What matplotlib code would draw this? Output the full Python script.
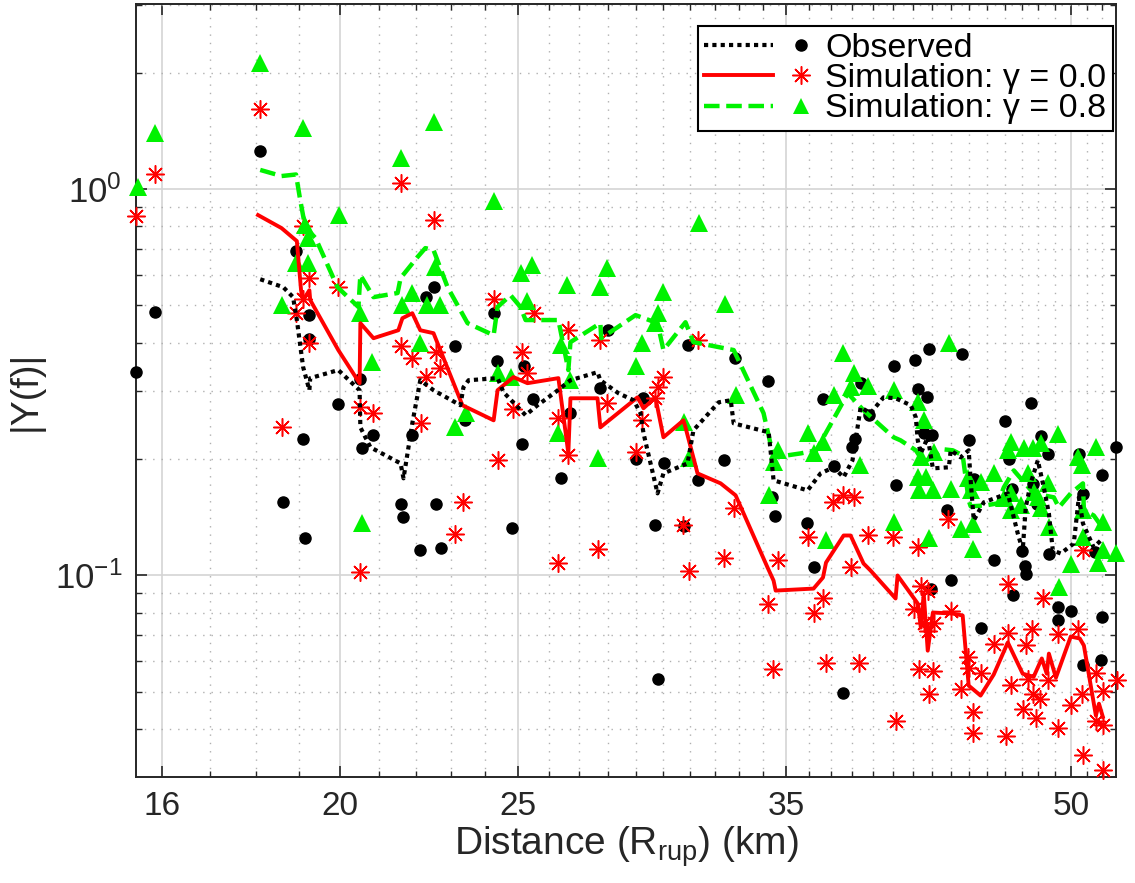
import matplotlib
matplotlib.use('Agg')
import matplotlib.pyplot as plt
from matplotlib.ticker import FixedLocator, FixedFormatter, NullFormatter
from matplotlib.legend_handler import HandlerBase
from matplotlib.lines import Line2D

plt.rcParams['font.family'] = ['Liberation Sans', 'DejaVu Sans']
plt.rcParams['mathtext.fontset'] = 'custom'
plt.rcParams['mathtext.rm'] = 'Liberation Sans'
plt.rcParams['mathtext.it'] = 'Liberation Sans:italic'
plt.rcParams['mathtext.bf'] = 'Liberation Sans:bold'

# ---------------- data ----------------
obs_x = [15.5, 15.87, 18.1, 18.62, 18.93, 19.24, 19.24, 19.1, 19.14, 19.96, 20.5, 20.84, 20.55,
         21.58, 21.64, 22.55, 22.1, 22.7, 21.89, 22.29, 22.49, 23.11, 24.36, 24.25, 25.13, 24.81,
         25.18, 23.4, 25.48, 26.37, 26.68, 27.72, 27.98, 29.25, 28.97, 30.01, 29.7, 30.77, 31.33,
         30.93, 32.36, 32.81, 34.2, 34.38, 34.52, 35.93, 36.23, 36.64, 37.15, 38.14, 38.0, 38.41,
         38.82, 40.05, 40.13, 41.13, 41.25, 41.73, 41.85, 43.6, 41.59, 42.02, 42.82, 43.0, 44.0,
         44.25, 45.38, 46.03, 46.28, 46.41, 47.53, 47.04, 47.2, 47.27, 48.14, 48.55, 48.64, 50.47,
         50.73, 52.0, 52.9, 51.53, 47.68, 47.94, 41.97, 46.5, 49.16, 49.16, 49.98, 52.0, 44.67,
         50.76, 51.9, 37.58, 29.8]
obs_y = [0.336, 0.48, 1.254, 0.155, 0.692, 0.472, 0.408, 0.225, 0.125, 0.277, 0.322, 0.231, 0.214,
         0.153, 0.1416, 0.153, 0.1166, 0.118, 0.2305, 0.526, 0.556, 0.392, 0.3584, 0.4766, 0.2195, 0.1326,
         0.348, 0.253, 0.2857, 0.1787, 0.2638, 0.306, 0.431, 0.288, 0.1998, 0.1954, 0.1353, 0.1346, 0.1762,
         0.394, 0.1986, 0.3664, 0.3186, 0.160, 0.1425, 0.137, 0.1055, 0.2857, 0.192, 0.226, 0.215, 0.314,
         0.26, 0.348, 0.1711, 0.3605, 0.303, 0.2897, 0.3843, 0.3738, 0.233, 0.2305, 0.148, 0.0975, 0.2246,
         0.178, 0.1094, 0.251, 0.1998, 0.1678, 0.2786, 0.1156, 0.1057, 0.1006, 0.229, 0.2058, 0.1138, 0.2067,
         0.1629, 0.1816, 0.215, 0.1149, 0.172, 0.1534, 0.0924, 0.0888, 0.0831, 0.0768, 0.0811, 0.078, 0.073,
         0.0588, 0.0605, 0.0497, 0.054]

sim0_x = [15.5, 15.87, 18.10, 18.61, 18.93, 19.10, 19.10, 19.25, 19.25, 19.96, 20.50, 20.52, 20.86,
          21.58, 21.58, 21.90, 22.15, 22.29, 22.51, 22.57, 22.68, 23.11, 23.35, 24.25, 24.37, 24.86,
          25.14, 25.27, 25.50, 26.30, 26.30, 26.63, 26.63, 27.65, 27.72, 27.96, 28.97, 29.22, 29.70,
          29.78, 30.00, 30.76, 30.96, 31.31, 32.35, 32.76, 34.18, 34.40, 34.62, 35.94, 36.21, 36.64,
          36.78, 37.09, 37.56, 37.93, 38.07, 38.31, 38.79, 39.98, 40.13, 41.26, 41.05, 41.31, 41.42,
          41.78, 41.57, 41.78, 41.84, 42.05, 42.10, 42.84, 43.0, 43.54, 43.93, 43.98, 44.20, 44.20,
          44.64, 45.38, 46.06, 46.23, 46.23, 46.35, 47.06, 47.24, 47.36, 47.59, 47.65, 47.83, 48.08,
          48.26, 48.56, 49.18, 49.18, 49.98, 50.43, 50.69, 50.75, 50.75, 51.58, 51.58, 52.03, 52.03,
          52.03, 52.95]
sim0_y = [0.851, 1.094, 1.612, 0.2417, 0.477, 0.802, 0.519, 0.588, 0.399, 0.557, 0.2723, 0.1018, 0.263,
          1.036, 0.392, 0.365, 0.2475, 0.326, 0.831, 0.378, 0.344, 0.1284, 0.1546, 0.519, 0.1986, 0.2692,
          0.378, 0.334, 0.477, 0.255, 0.108, 0.431, 0.2046, 0.1174, 0.406, 0.279, 0.2084, 0.252, 0.2874,
          0.307, 0.326, 0.1348, 0.103, 0.406, 0.1113, 0.1491, 0.0846, 0.0574, 0.1094, 0.1254, 0.0802, 0.0872,
          0.0595, 0.1546, 0.1612, 0.1049, 0.1593, 0.0595, 0.1269, 0.1254, 0.0421, 0.1182, 0.0821, 0.0574, 0.0942,
          0.0914, 0.0755, 0.0720, 0.0495, 0.0567, 0.0755, 0.1397, 0.0811, 0.0510, 0.0617, 0.0578, 0.0444, 0.0392,
          0.0561, 0.0666, 0.0385, 0.0953, 0.0712, 0.0522, 0.0452, 0.0659, 0.0541, 0.0725, 0.0495, 0.0429, 0.0480,
          0.0872, 0.0535, 0.0707, 0.0404, 0.0463, 0.0725, 0.0495, 0.1161, 0.0344, 0.0561, 0.0421, 0.0504, 0.0411,
          0.0313, 0.0535]

sim8_x = [15.52, 15.87, 18.10, 18.61, 18.93, 19.10, 19.15, 19.22, 19.22, 19.99, 20.50, 20.57, 20.83,
          21.58, 21.61, 21.90, 22.12, 22.32, 22.49, 22.54, 22.68, 23.11, 23.41, 24.25, 24.37, 24.77,
          25.11, 25.30, 25.46, 26.30, 26.40, 26.60, 26.70, 27.65, 27.72, 27.96, 28.97, 29.22, 29.70,
          29.78, 30.00, 30.80, 30.96, 31.35, 32.39, 32.84, 34.23, 34.44, 34.62, 35.94, 36.21, 36.64,
          36.78, 37.13, 37.56, 37.93, 38.07, 38.36, 38.79, 40.03, 40.03, 41.26, 41.42, 41.57, 41.68,
          41.26, 41.31, 41.84, 42.05, 42.10, 42.90, 43.0, 43.54, 43.93, 44.09, 44.20, 44.20, 44.64,
          45.38, 45.96, 46.23, 46.35, 46.35, 46.35, 46.94, 47.12, 47.36, 47.65, 47.71, 47.96, 48.14,
          48.14, 48.56, 48.63, 49.18, 49.24, 49.98, 50.43, 50.69, 50.75, 50.75, 51.58, 51.71, 52.03,
          52.03, 52.93]
sim8_y = [1.012, 1.397, 2.12, 0.5006, 0.643, 1.439, 0.807, 0.746, 0.643, 0.856, 0.477, 0.1364, 0.356,
          1.203, 0.5006, 0.538, 0.399, 0.5006, 1.491, 0.628, 0.5006, 0.2417, 0.263, 0.931, 0.334, 0.326,
          0.606, 0.513, 0.636, 0.2333, 0.3944, 0.564, 0.320, 0.201, 0.557, 0.624, 0.348, 0.399, 0.4496,
          0.477, 0.541, 0.249, 0.201, 0.816, 0.504, 0.2926, 0.1612, 0.1962, 0.2108, 0.2333, 0.207, 0.2212,
          0.1232, 0.2926, 0.376, 0.307, 0.334, 0.1928, 0.309, 0.3015, 0.1372, 0.2806, 0.2021, 0.252, 0.1795,
          0.1795, 0.166, 0.1247, 0.166, 0.2084, 0.399, 0.167, 0.1316, 0.1784, 0.166, 0.1356, 0.1174, 0.1741,
          0.1837, 0.1583, 0.2108, 0.2212, 0.1631, 0.1474, 0.1518, 0.2133, 0.1837, 0.2133, 0.1641, 0.1593, 0.2198,
          0.1491, 0.1731, 0.1332, 0.2318, 0.0931, 0.1074, 0.2021, 0.1928, 0.1474, 0.1254, 0.2146, 0.108, 0.1372,
          0.1161, 0.114]

obs_line_x = [18.10, 18.63, 18.86, 18.95, 19.10, 19.25, 19.27, 19.96, 20.50, 20.52, 20.78, 21.58, 21.66,
              21.90, 22.12, 22.49, 23.26, 23.35, 23.50, 24.37, 24.55, 25.24, 25.62, 26.20, 26.70, 27.62,
              27.72, 28.36, 28.90, 29.15, 29.26, 29.78, 30.0, 30.92, 31.15, 32.15, 32.64, 32.76, 34.23,
              34.44, 35.94, 36.53, 37.13, 37.60, 38.02, 38.41, 38.89, 39.53, 40.13, 40.9, 41.16, 41.26,
              41.42, 41.78, 42.05, 42.9, 43.0, 43.54, 43.98, 44.09, 44.26, 44.82, 46.19, 46.77, 47.06,
              47.24, 47.53, 47.96, 48.32, 48.63, 48.87, 49.36, 50.17, 50.49, 50.75, 51.44, 52.03]
obs_line_y = [0.584, 0.557, 0.525, 0.458, 0.346, 0.3015, 0.324, 0.340, 0.3015, 0.2417, 0.2146, 0.195, 0.1784,
              0.2475, 0.320, 0.3015, 0.2757, 0.307, 0.320, 0.324, 0.298, 0.2598, 0.2757, 0.298, 0.320, 0.3357,
              0.320, 0.296, 0.284, 0.263, 0.2333, 0.1631, 0.1837, 0.195, 0.2375, 0.2806, 0.284, 0.2475, 0.2347,
              0.1763, 0.166, 0.1837, 0.1905, 0.1795, 0.1986, 0.2723, 0.263, 0.289, 0.2874, 0.2757, 0.2566, 0.2237,
              0.207, 0.2278, 0.1893, 0.1905, 0.2108, 0.2021, 0.2108, 0.1763, 0.1388, 0.1546, 0.1631, 0.1284, 0.1161,
              0.150, 0.1731, 0.1986, 0.169, 0.1447, 0.1161, 0.114, 0.121, 0.1593, 0.1364, 0.1182, 0.1247]

sim0_line_x = [18.05, 18.59, 18.95, 19.05, 19.10, 19.25, 19.27, 19.96, 20.50, 20.52, 20.86, 21.52, 21.63,
               21.90, 22.12, 22.49, 23.32, 24.25, 24.37, 24.86, 25.30, 26.30, 26.63, 26.70, 27.62, 27.72,
               29.04, 29.26, 29.70, 30.0, 30.76, 30.84, 31.31, 32.23, 32.84, 34.18, 34.44, 34.53, 36.21,
               36.64, 36.78, 37.6, 37.93, 38.55, 38.89, 40.13, 40.23, 41.26, 41.42, 41.57, 41.78, 42.05,
               43.11, 43.65, 43.98, 44.64, 45.38, 46.19, 47.06, 47.71, 48.2, 48.5, 48.63, 49.06, 49.98,
               50.55, 50.81, 51.58, 51.78, 52.03]
sim0_line_y = [0.856, 0.792, 0.733, 0.547, 0.516, 0.547, 0.516, 0.383, 0.3144, 0.4496, 0.411, 0.431, 0.463,
               0.477, 0.431, 0.4235, 0.2757, 0.252, 0.3015, 0.326, 0.3144, 0.324, 0.207, 0.2874, 0.2874, 0.2417,
               0.289, 0.2708, 0.289, 0.2278, 0.252, 0.2417, 0.1837, 0.1731, 0.1612, 0.1049, 0.0970, 0.0914, 0.0925,
               0.0988, 0.108, 0.1269, 0.1269, 0.1074, 0.103, 0.0872, 0.100, 0.0846, 0.0733, 0.0898, 0.0639, 0.0802,
               0.0797, 0.0788, 0.0519, 0.0489, 0.0554, 0.0671, 0.0557, 0.0547, 0.061, 0.0557, 0.0628, 0.0544, 0.0695,
               0.0687, 0.0659, 0.0434, 0.0466, 0.0431]

sim8_line_x = [18.10, 18.59, 18.93, 19.03, 19.15, 19.40, 19.94, 20.47, 20.52, 20.86, 21.50, 21.58, 22.04,
               22.26, 22.49, 22.89, 23.47, 24.25, 24.37, 24.77, 25.08, 25.24, 26.30, 26.63, 26.70, 27.72,
               27.75, 28.97, 29.78, 30.0, 30.84, 31.15, 32.76, 34.01, 34.44, 35.64, 36.33, 37.80, 38.55,
               40.03, 40.38, 41.16, 41.57, 42.63, 43.11, 43.65, 43.98, 44.09, 44.93, 45.61, 45.96, 46.54,
               47.71, 48.93, 49.24, 49.98, 50.75, 50.81, 51.44, 51.9]
sim8_line_y = [1.12, 1.08, 1.09, 0.936, 0.797, 0.746, 0.557, 0.495, 0.599, 0.525, 0.538, 0.588, 0.666,
               0.703, 0.695, 0.557, 0.4496, 0.4184, 0.495, 0.531, 0.495, 0.458, 0.458, 0.340, 0.4015, 0.4496,
               0.411, 0.4716, 0.4496, 0.383, 0.452, 0.4015, 0.383, 0.263, 0.2021, 0.207, 0.2108, 0.296, 0.2676,
               0.2278, 0.2237, 0.2108, 0.1962, 0.212, 0.2108, 0.2046, 0.1564, 0.151, 0.1518, 0.1537, 0.169, 0.187,
               0.1631, 0.1593, 0.150, 0.1631, 0.1731, 0.1474, 0.143, 0.1348]

x_major = [16, 20, 25, 35, 50]
x_minor = [17, 18, 19, 21, 22, 23, 24, 26, 27, 28, 29, 30, 31, 32, 33, 34, 36, 37, 38, 39, 40,
           41, 42, 43, 44, 45, 46, 47, 48, 49, 51, 52]
y_major = [0.1, 1.0]
y_major_labels = [r'$10^{-1}$', r'$10^{0}$']
y_minor = [0.03, 0.04, 0.05, 0.06, 0.07, 0.08, 0.09, 0.2, 0.3, 0.4, 0.5, 0.6, 0.7, 0.8, 0.9, 2, 3]

labels = ['Observed', 'Simulation: γ = 0.0', 'Simulation: γ = 0.8']

# ---------------- styles ----------------
GREEN = '#00f200'
RED = '#ff0000'
STAR = (8, 2, 0)
AXC = '#262626'

fig = plt.figure(figsize=(11.35, 8.83), dpi=100)
ax = fig.add_axes([0.1198, 0.12, 0.8635, 0.8755])
ax.set_xscale('log')
ax.set_yscale('log')

ax.plot(obs_x, obs_y, linestyle='none', marker='o', ms=8, color='black', clip_on=False, zorder=3)
ax.plot(sim0_x, sim0_y, linestyle='none', marker=STAR, ms=13, mew=1.1, color=RED, clip_on=False, zorder=3)
ax.plot(sim8_x, sim8_y, linestyle='none', marker='^', ms=12.5, mew=0, color=GREEN, clip_on=False, zorder=3)

l8, = ax.plot(sim8_line_x, sim8_line_y, color=GREEN, lw=3.2, linestyle=(0, (3.5, 1.5)), zorder=4)
l0, = ax.plot(sim0_line_x, sim0_line_y, color=RED, lw=2.8, zorder=4)
lo, = ax.plot(obs_line_x, obs_line_y, color='black', lw=3, linestyle=(0, (1, 1)),
              dash_capstyle='butt', zorder=5)

ax.set_xlim(15.49, 52.9)
ax.set_ylim(0.0301, 3.01)

ax.xaxis.set_major_locator(FixedLocator(x_major))
ax.xaxis.set_major_formatter(FixedFormatter([str(v) for v in x_major]))
ax.xaxis.set_minor_locator(FixedLocator(x_minor))
ax.xaxis.set_minor_formatter(NullFormatter())
ax.yaxis.set_major_locator(FixedLocator(y_major))
ax.yaxis.set_major_formatter(FixedFormatter(y_major_labels))
ax.yaxis.set_minor_locator(FixedLocator(y_minor))
ax.yaxis.set_minor_formatter(NullFormatter())

ax.grid(True, which='major', color='#d4d4d4', lw=1.2, linestyle='-')
ax.grid(True, which='minor', color='#b0b0b0', lw=1.0, linestyle=(0, (1, 5)))
ax.set_axisbelow(True)

ax.tick_params(which='both', direction='in', top=True, right=True, colors=AXC, labelsize=24)
ax.tick_params(which='major', length=8, width=1.2)
ax.tick_params(which='minor', length=4, width=1.0)
ax.tick_params(axis='x', pad=10)
ax.tick_params(axis='y', pad=10, labelsize=25)
for s in ax.spines.values():
    s.set_color(AXC)
    s.set_linewidth(1.4)

ax.set_xlabel(r'Distance (R$_{\mathrm{rup}}$) (km)', fontsize=28, color=AXC, labelpad=2)
ax.set_ylabel('|Y(f)|', fontsize=27, color=AXC, labelpad=8)


class LineThenMarker(HandlerBase):
    def __init__(self, line_kw, marker_kw, frac=0.61, mpos=0.86):
        super().__init__()
        self.line_kw = line_kw
        self.marker_kw = marker_kw
        self.frac = frac
        self.mpos = mpos

    def create_artists(self, legend, orig_handle, xdescent, ydescent, width, height, fontsize, trans):
        y = height / 2 - ydescent
        ln = Line2D([-xdescent, -xdescent + self.frac * width], [y, y], **self.line_kw)
        mk = Line2D([-xdescent + self.mpos * width], [y], linestyle='none', **self.marker_kw)
        ln.set_transform(trans)
        mk.set_transform(trans)
        return [ln, mk]


hmap = {
    lo: LineThenMarker(dict(color='black', lw=3, linestyle=(0, (1, 1)), dash_capstyle='butt'),
                       dict(marker='o', ms=8, color='black')),
    l0: LineThenMarker(dict(color=RED, lw=2.8),
                       dict(marker=STAR, ms=13, mew=1.1, color=RED)),
    l8: LineThenMarker(dict(color=GREEN, lw=3.2, linestyle=(0, (3.5, 1.5))),
                       dict(marker='^', ms=12, mew=0, color=GREEN)),
}
leg = ax.legend([lo, l0, l8], labels, handler_map=hmap, loc='upper right',
                bbox_to_anchor=(0.997, 0.9715), borderaxespad=0, fontsize=24.5,
                handlelength=3.3, handletextpad=0.25, labelspacing=-0.02, borderpad=0.2,
                fancybox=False, framealpha=1, edgecolor='black')
leg.get_frame().set_linewidth(1.5)
leg.set_zorder(10)

fig.savefig('out.png', dpi=100)
